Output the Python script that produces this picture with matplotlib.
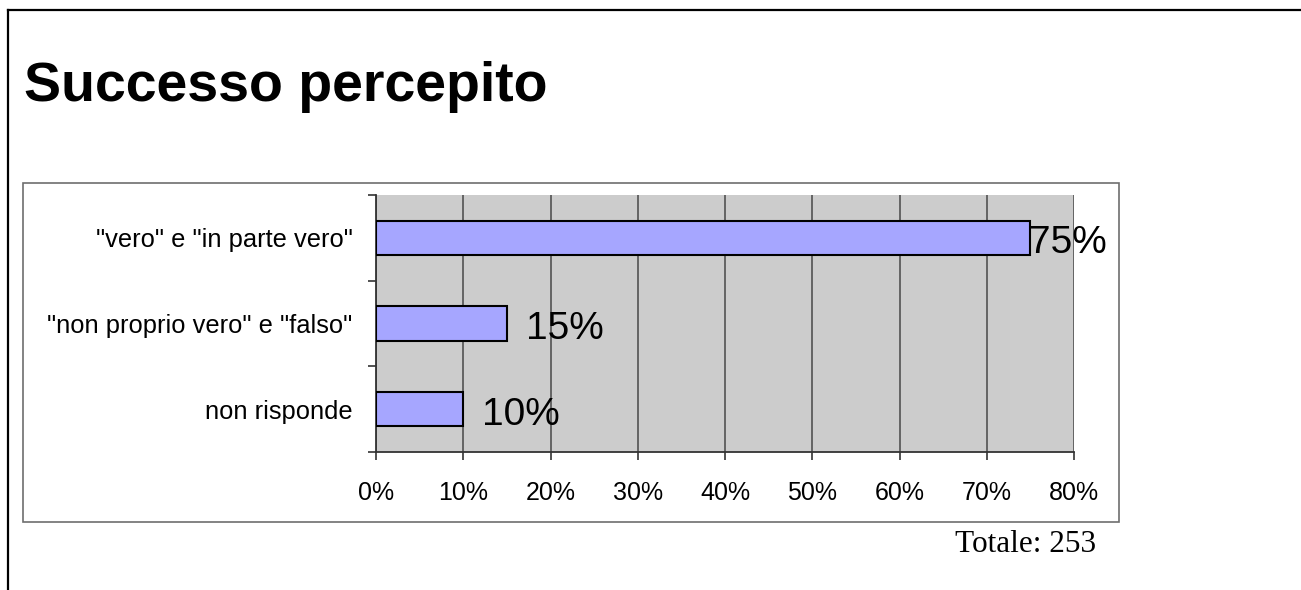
import numpy as np
import matplotlib.pyplot as plt
from matplotlib.lines import Line2D
from matplotlib.patches import Rectangle

# dati
categorie = ['"vero" e "in parte vero"', '"non proprio vero" e "falso"', 'non risponde']
valori = [75, 15, 10]
x_ticks = [0, 10, 20, 30, 40, 50, 60, 70, 80]
titolo = 'Successo percepito'
totale = 'Totale: 253'

W, H = 1301, 590
fig = plt.figure(figsize=(W / 100, H / 100), dpi=100)
fig.patch.set_facecolor('white')


def px_box(x0, y0, x1, y1):
    # pixel (dall'alto) -> coordinate figura
    return [x0 / W, 1 - y1 / H, (x1 - x0) / W, (y1 - y0) / H]


# cornice esterna (solo lato sinistro e superiore)
fig.add_artist(Line2D([8 / W, 8 / W], [0, 1 - 10 / H], transform=fig.transFigure,
                      color='black', lw=1.6))
fig.add_artist(Line2D([8 / W, 1], [1 - 10 / H, 1 - 10 / H], transform=fig.transFigure,
                      color='black', lw=1.6))

# riquadro del grafico
fig.add_artist(Rectangle((23 / W, 1 - 522 / H), (1119 - 23) / W, (522 - 183) / H,
                         transform=fig.transFigure, fill=False,
                         edgecolor='#6e6e6e', lw=1.2))

fig.text(24 / W, 1 - 101 / H, titolo, fontsize=40, fontweight='bold',
         family='Liberation Sans', ha='left', va='baseline')

ax = fig.add_axes(px_box(376, 195, 1074, 452))
ax.set_facecolor('#cccccc')

y = np.arange(len(categorie))
ax.barh(y, valori, height=0.4, color='#a6a6ff', edgecolor='black', linewidth=1.5, zorder=3)

ax.set_xlim(0, 80)
ax.set_ylim(len(categorie) - 0.5, -0.5)

ax.set_xticks(x_ticks)
ax.set_xticklabels([f'{t}%' for t in x_ticks], family='Liberation Sans', fontsize=18)
ax.xaxis.grid(True, color='#5c5c5c', lw=1.3, zorder=1)
ax.set_axisbelow(True)

# tacche sui confini delle categorie, etichette al centro
ax.set_yticks(np.arange(len(categorie) + 1) - 0.5)
ax.set_yticklabels([])
ax.set_yticks(y, minor=True)
ax.set_yticklabels(categorie, minor=True, family='Liberation Sans', fontsize=18.4)
ax.tick_params(axis='y', which='minor', length=0, pad=17)
ax.tick_params(axis='y', which='major', length=6, width=1.2, color='#333333', direction='out')
ax.tick_params(axis='x', length=6, width=1.2, color='#333333', direction='out', pad=15)

for s in ['top', 'right']:
    ax.spines[s].set_visible(False)
for s in ['left', 'bottom']:
    ax.spines[s].set_color('#333333')
    ax.spines[s].set_linewidth(1.3)

# etichette dei valori, tenute dentro il riquadro
for yi, v in zip(y, valori):
    xl = min(v + 2.2, 74.8)
    ax.annotate(f'{v}%', (xl, yi), xytext=(0, -4), textcoords='offset points',
                fontsize=28, family='Liberation Sans',
                ha='left', va='center', zorder=4, annotation_clip=False)

fig.text(1096 / W, 1 - 552 / H, totale, fontsize=22.5, family='Liberation Serif',
         ha='right', va='baseline')

fig.savefig('out.png', dpi=100)
